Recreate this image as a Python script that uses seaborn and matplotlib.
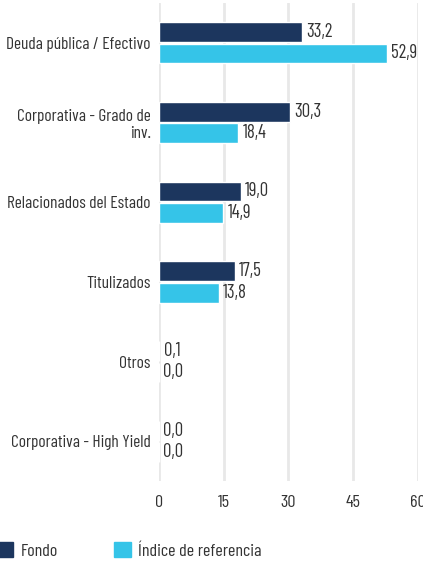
import pandas as pd
import matplotlib.pyplot as plt
import seaborn as sns
from matplotlib.patches import Patch

categorias = ["Deuda pública / Efectivo", "Corporativa - Grado de\ninv.", "Relacionados del Estado",
              "Titulizados", "Otros", "Corporativa - High Yield"]
fondo = [33.2, 30.3, 19.0, 17.5, 0.1, 0.0]
indice = [52.9, 18.4, 14.9, 13.8, 0.0, 0.0]
series = ["Fondo", "Índice de referencia"]
colores = ["#1c365e", "#35c4e8"]
ticks_x = [0, 15, 30, 45, 60]

df = pd.DataFrame({
    "categoria": categorias * 2,
    "valor": fondo + indice,
    "serie": [series[0]] * len(fondo) + [series[1]] * len(indice),
})

sns.set_style("white")
plt.rcParams["font.family"] = ["Barlow Condensed", "Roboto Condensed", "DejaVu Sans"]
plt.rcParams["font.weight"] = 400
plt.rcParams["text.color"] = "#333333"
fs = 13

fig = plt.figure(figsize=(4.23, 5.63), dpi=100)
ax = fig.add_axes([0.376, 0.145, 0.612, 0.85])

sns.barplot(data=df, y="categoria", x="valor", hue="serie", palette=colores,
            orient="h", width=0.54, gap=0.08, saturation=1, legend=False, ax=ax)

for cont in ax.containers:
    ax.bar_label(cont, fmt=lambda v: f"{v:.1f}".replace(".", ","), padding=3,
                 fontsize=fs + 0.5, color="#333333")

ax.set_xlim(0, 60)
ax.set_ylim(5.5, -0.5)
ax.set_xticks(ticks_x)
ax.xaxis.grid(True, color="#e8e8e8", linewidth=2)
ax.set_axisbelow(True)
ax.set_xlabel("")
ax.set_ylabel("")
ax.tick_params(axis="both", length=0, labelsize=fs, labelcolor="#333333")
ax.tick_params(axis="y", pad=6, labelsize=fs - 0.5)
ax.tick_params(axis="x", pad=10)
for s in ax.spines.values():
    s.set_visible(False)

handles = [Patch(color=c, label=l) for c, l in zip(colores, series)]
fig.legend(handles=handles, loc="lower left", bbox_to_anchor=(-0.0095, 0.007), ncol=2,
           frameon=False, fontsize=fs, handlelength=0.95, handleheight=0.9,
           borderpad=0, borderaxespad=0, handletextpad=0.4, columnspacing=3.1)

fig.savefig("out.png", dpi=100)
